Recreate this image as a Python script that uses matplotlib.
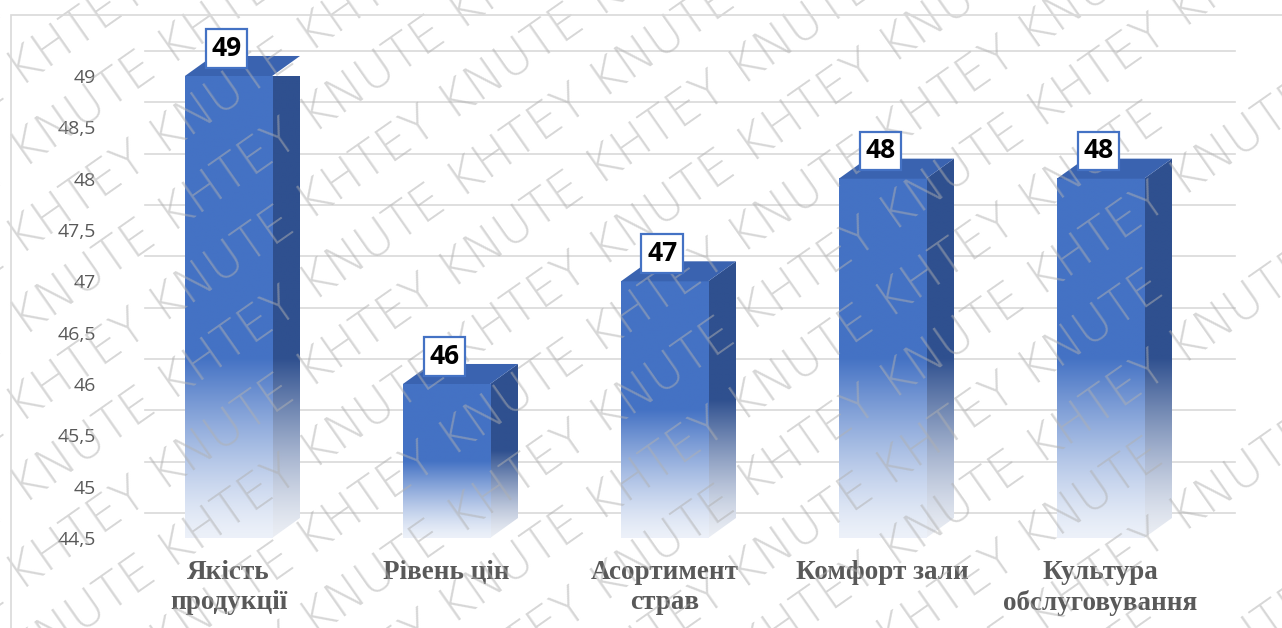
import numpy as np
import matplotlib
matplotlib.use("Agg")
import matplotlib.pyplot as plt
from matplotlib.patches import Polygon, Rectangle
from matplotlib.colors import to_rgb

categories = ["Якість\nпродукції", "Рівень цін", "Асортимент\nстрав", "Комфорт зали", "Культура\nобслуговування"]
values = [49, 46, 47, 48, 48]
yticks = [44.5, 45, 45.5, 46, 46.5, 47, 47.5, 48, 48.5, 49]

base = 44.5
front_c = "#4472C4"
top_c = "#3A63B0"
side_c = "#2F508F"

W, H = 1282, 628
fig = plt.figure(figsize=(W / 100, H / 100), dpi=100)
ax = fig.add_axes([119.5 / W, 90 / H, 1090 / W, 462 / H])
ax.set_xlim(-0.5, 4.5)
ax.set_ylim(base, 49)

# chart border
fig.patches.append(Rectangle((11 / W, -0.1), 1.2, (H - 15) / H + 0.1,
                             transform=fig.transFigure, fill=False,
                             edgecolor="#d9d9d9", lw=1.2))

# back wall gridlines
dxw, dyw = 0.115, 0.245
for t in yticks:
    ax.plot([-0.5 + dxw, 4.5 + dxw], [t + dyw, t + dyw], color="#d9d9d9",
            lw=1.2, zorder=1, clip_on=False)

w = 0.4
dx, dy = 0.128, 0.195


def ramp(v, rgb):
    # colour that fades into white towards the floor
    n = 200
    ys = np.linspace(base, v, n)
    fade_top = min(46.25, base + 0.5 * (v - base))
    a = np.clip((ys - base) / (fade_top - base), 0, 1)
    a = 0.1 + 0.9 * a ** 1.3
    img = np.ones((n, 2, 3))
    img[:, :, :] = (np.array(rgb)[None, :] * a[:, None] + (1 - a[:, None]))[:, None, :]
    return img


for i, v in enumerate(values):
    x0, x1 = i - w / 2, i + w / 2
    # front face
    ax.imshow(ramp(v, to_rgb(front_c)), extent=(x0, x1, base, v), origin="lower",
              aspect="auto", interpolation="bilinear", zorder=3, clip_on=False)
    # side face
    side = Polygon([(x1, base), (x1, v), (x1 + dx, v + dy), (x1 + dx, base + dy)],
                   closed=True, facecolor="none", edgecolor="none")
    ax.add_patch(side)
    im = ax.imshow(ramp(v + dy, to_rgb(side_c)), extent=(x1, x1 + dx, base, v + dy),
                   origin="lower", aspect="auto", interpolation="bilinear", zorder=2)
    im.set_clip_path(side)
    # top face
    ax.add_patch(Polygon([(x0, v), (x1, v), (x1 + dx, v + dy), (x0 + dx, v + dy)],
                         closed=True, facecolor=top_c, edgecolor="none",
                         zorder=4, clip_on=False))
    # value label
    ax.annotate(str(v), xy=(i, v), xytext=(-1.5, 20), textcoords="offset points",
                ha="center", va="center", fontsize=19, fontweight="bold",
                family="Open Sans", color="black", zorder=6,
                bbox=dict(boxstyle="square,pad=0.22", fc="white", ec=front_c, lw=1.6))

ax.set_xlim(-0.5, 4.5)
ax.set_ylim(base, 49)
ax.set_yticks(yticks)
ax.set_yticklabels([f"{t:g}".replace(".", ",") for t in yticks],
                   fontsize=14, color="#595959", family="Open Sans")
ax.set_xticks(range(len(categories)))
ax.set_xticklabels(categories, fontsize=19.5, fontweight="bold", color="#595959",
                   family="Liberation Serif", linespacing=1.25, va="top")
ax.tick_params(axis="y", length=0, pad=17)
ax.tick_params(axis="x", length=0, pad=16)
for s in ax.spines.values():
    s.set_visible(False)
ax.patch.set_alpha(0)

# watermark: parallel rows at 35 degrees, alternating phase
# (drawn inside the axes so the value boxes stay on top of it)
ang = np.deg2rad(35)
ux, uy = np.cos(ang), np.sin(ang)
wm = "KHTEY KNUTE " * 8
for k in range(-10, 24):
    py = -800 + k * 84
    shift = -1400 + (k % 2) * 185
    sx, sy = shift * ux, py + shift * uy
    t = ax.text(sx / W, sy / H, wm, transform=fig.transFigure, rotation=35,
                rotation_mode="anchor", fontsize=35, color="#b0b0b0", alpha=0.5,
                family="DejaVu Sans", fontweight="light", ha="left", va="center",
                zorder=5)
    t.set_clip_box(fig.bbox)
    t.set_clip_on(True)

fig.savefig("out.png", dpi=100)
